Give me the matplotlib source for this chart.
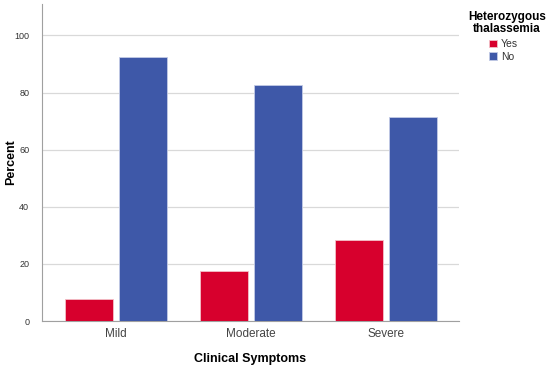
import numpy as np
import matplotlib.pyplot as plt

plt.rcParams['font.family'] = ['Liberation Sans', 'DejaVu Sans']

# data
categories = ["Mild", "Moderate", "Severe"]
yes_pct = [7.7, 17.5, 28.4]
no_pct = [92.3, 82.5, 71.6]
series_names = ["Yes", "No"]

fig = plt.figure(figsize=(5.5, 3.67), dpi=100)
ax = fig.add_axes([0.076, 0.125, 0.759, 0.864])

x = np.arange(len(categories))
w = 0.355
ax.bar(x - 0.2, yes_pct, w, color="#D7002D", edgecolor="#f3c0c8", linewidth=0.6,
       label=series_names[0], zorder=3)
ax.bar(x + 0.2, no_pct, w, color="#3E58A8", edgecolor="#c3cbe6", linewidth=0.6,
       label=series_names[1], zorder=3)

ax.set_xlim(-0.548, 2.54)
ax.set_ylim(0, 111)
ax.set_yticks([0, 20, 40, 60, 80, 100])
ax.set_xticks(x)
ax.set_xticklabels(categories)
ax.grid(axis="y", color="#d9d9d9", linewidth=0.9, zorder=0)

for s in ["top", "right"]:
    ax.spines[s].set_visible(False)
ax.spines["left"].set_color("#a0a0a0")
ax.spines["bottom"].set_color("#a0a0a0")

ax.tick_params(axis="y", length=0, labelsize=6.5, labelcolor="#333333", pad=9)
ax.tick_params(axis="x", length=0, labelsize=8.5, labelcolor="#444444", pad=5)

ax.set_xlabel("Clinical Symptoms", fontsize=9, fontweight="bold", labelpad=9)
ax.set_ylabel("Percent", fontsize=9, fontweight="bold")
ax.yaxis.set_label_coords(-0.06, 0.5)

# legend
fig.text(0.922, 0.937, "Heterozygous\nthalassemia", ha="center", va="center",
         fontsize=8.5, fontweight="bold", linespacing=0.95)
leg = fig.legend(loc="upper left", bbox_to_anchor=(0.889, 0.893), frameon=False,
                 fontsize=7.5, handlelength=0.75, handleheight=0.75, handletextpad=0.4,
                 labelspacing=0.25, borderpad=0, borderaxespad=0)
for t in leg.get_texts():
    t.set_color("#333333")

fig.savefig("out.png", dpi=100)
